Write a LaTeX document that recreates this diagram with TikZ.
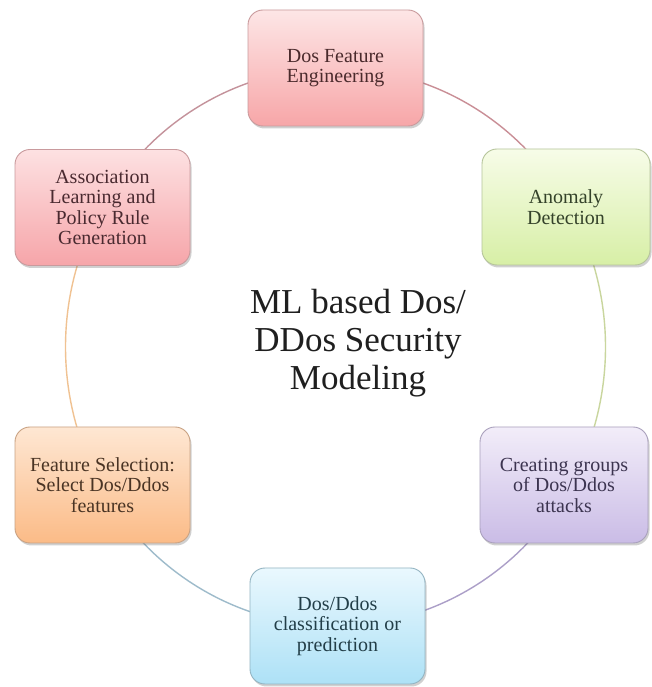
\documentclass[tikz,border=0pt]{standalone}
\usepackage{fontspec}
\setmainfont{Liberation Serif}
\usetikzlibrary{shadows,backgrounds}

% box fills (top / bottom of the gradient), borders and text
\definecolor{redTop}{HTML}{FDE6E6}\definecolor{redBot}{HTML}{F7A6A8}\definecolor{redLine}{HTML}{C99A9C}\definecolor{redText}{HTML}{4A2A2C}
\definecolor{grnTop}{HTML}{F7FCE8}\definecolor{grnBot}{HTML}{D7EFA6}\definecolor{grnLine}{HTML}{B5C49A}\definecolor{grnText}{HTML}{34422A}
\definecolor{vioTop}{HTML}{F2EDF9}\definecolor{vioBot}{HTML}{CABCE6}\definecolor{vioLine}{HTML}{A9A0BC}\definecolor{vioText}{HTML}{3C3450}
\definecolor{bluTop}{HTML}{EAF8FE}\definecolor{bluBot}{HTML}{ADE1F6}\definecolor{bluLine}{HTML}{93B4C2}\definecolor{bluText}{HTML}{223E48}
\definecolor{orgTop}{HTML}{FEE7D3}\definecolor{orgBot}{HTML}{FBBB87}\definecolor{orgLine}{HTML}{C9A283}\definecolor{orgText}{HTML}{4A3424}
\definecolor{pnkTop}{HTML}{FDE1E2}\definecolor{pnkBot}{HTML}{F6A5A9}\definecolor{pnkLine}{HTML}{C99A9D}\definecolor{pnkText}{HTML}{4A2A30}
% ring segment colours
\definecolor{arcA}{HTML}{C98E96}
\definecolor{arcB}{HTML}{C9D69E}
\definecolor{arcC}{HTML}{AC9FC8}
\definecolor{arcD}{HTML}{9EBBCB}
\definecolor{arcE}{HTML}{F0C292}
\definecolor{arcF}{HTML}{C4929B}

\begin{document}
\begin{tikzpicture}[x=1pt,y=1pt,
  stage/.style={rounded corners=15pt, minimum height=116pt, align=center,
    font=\fontsize{20}{20.5}\selectfont, line width=0.9pt, inner sep=3pt,
    drop shadow={shadow xshift=1.5pt,shadow yshift=-2.5pt,opacity=0.3,fill=black!60}},
  wide/.style={minimum width=175pt},
  narrow/.style={minimum width=168pt},
  ring/.style={line width=1.4pt},
  ringx/.style={x radius=270pt, y radius=279pt}
]
\useasboundingbox (0,0) rectangle (652,687);

\coordinate (mid) at (335.5,340);

% the six stages around the ring
\node[stage, wide, top color=redTop, bottom color=redBot, draw=redLine, text=redText]
  (feat) at (335.5,619) {Dos Feature\\Engineering};
\node[stage, narrow, top color=grnTop, bottom color=grnBot, draw=grnLine, text=grnText]
  (anom) at (566,480) {Anomaly\\Detection};
\node[stage, narrow, top color=vioTop, bottom color=vioBot, draw=vioLine, text=vioText]
  (group) at (564,202) {Creating groups\\of Dos/Ddos\\attacks};
\node[stage, wide, top color=bluTop, bottom color=bluBot, draw=bluLine, text=bluText]
  (classify) at (337.5,61) {Dos/Ddos\\classification or\\prediction};
\node[stage, wide, top color=orgTop, bottom color=orgBot, draw=orgLine, text=orgText]
  (select) at (102.5,202) {Feature Selection:\\Select Dos/Ddos\\features};
\node[stage, wide, top color=pnkTop, bottom color=pnkBot, draw=pnkLine, text=pnkText]
  (assoc) at (102.5,479.5) {Association\\Learning and\\Policy Rule\\Generation};

% title in the middle
\node[align=center, font=\fontsize{35}{38}\selectfont, text=black!88]
  (title) at (358,344) {ML based Dos/\\DDos Security\\Modeling};

% points of the ring under each stage
\path (mid) ++(90:270pt and 279pt)   coordinate (p1);
\path (mid) ++(30:270pt and 279pt)   coordinate (p2);
\path (mid) ++(-30:270pt and 279pt)  coordinate (p3);
\path (mid) ++(-90:270pt and 279pt)  coordinate (p4);
\path (mid) ++(-150:270pt and 279pt) coordinate (p5);
\path (mid) ++(150:270pt and 279pt)  coordinate (p6);

\begin{scope}[on background layer]
  \fill[white] (0,0) rectangle (652,687);
  \draw[ring, arcA] (p1) arc[ringx, start angle=90,   end angle=30];
  \draw[ring, arcB] (p2) arc[ringx, start angle=30,   end angle=-30];
  \draw[ring, arcC] (p3) arc[ringx, start angle=-30,  end angle=-90];
  \draw[ring, arcD] (p4) arc[ringx, start angle=-90,  end angle=-150];
  \draw[ring, arcE] (p5) arc[ringx, start angle=-150, end angle=-210];
  \draw[ring, arcF] (p6) arc[ringx, start angle=150,  end angle=90];
\end{scope}
\end{tikzpicture}
\end{document}
